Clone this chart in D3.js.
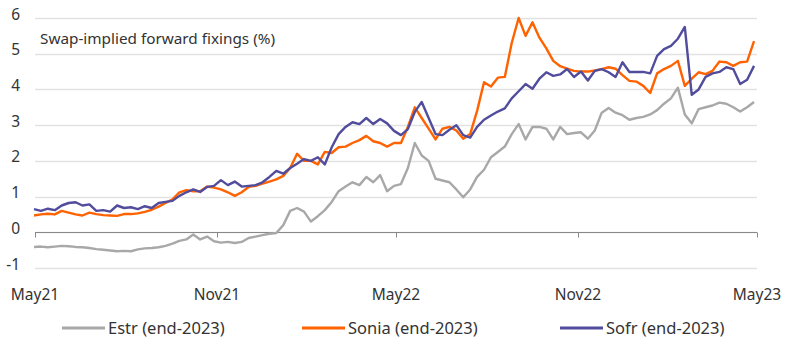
<!DOCTYPE html>
<html>
<head>
<meta charset="utf-8">
<script src="https://cdn.jsdelivr.net/npm/d3@7"></script>
<style>
  body { margin: 0; background: #fff; }
  svg { display: block; font-family: "Noto Sans", Lato, sans-serif; }
</style>
</head>
<body>
<svg id="chart" width="800" height="359"></svg>
<script>
// weekly observations, Fridays from 30 Apr 2021 to 28 Apr 2023
const dates = d3.timeFriday.range(new Date(2021, 3, 30), new Date(2023, 3, 29));

const estr = [
    -0.41, -0.40, -0.42, -0.40, -0.38, -0.39, -0.41, -0.42, -0.44, -0.47,
    -0.49, -0.51, -0.53, -0.52, -0.53, -0.48, -0.45, -0.44, -0.42, -0.38,
    -0.32, -0.24, -0.20, -0.06, -0.20, -0.12, -0.25, -0.29, -0.27, -0.30,
    -0.27, -0.16, -0.12, -0.08, -0.04, -0.02, 0.20, 0.60, 0.68, 0.58,
    0.30, 0.45, 0.62, 0.85, 1.15, 1.28, 1.40, 1.32, 1.55, 1.40,
    1.60, 1.15, 1.30, 1.35, 1.80, 2.50, 2.15, 2.00, 1.50, 1.45,
    1.40, 1.20, 0.98, 1.20, 1.55, 1.75, 2.10, 2.25, 2.40, 2.75,
    3.03, 2.60, 2.95, 2.95, 2.90, 2.60, 2.95, 2.75, 2.78, 2.80,
    2.62, 2.85, 3.35, 3.48, 3.35, 3.28, 3.15, 3.20, 3.23, 3.30,
    3.42, 3.60, 3.75, 4.05, 3.30, 3.05, 3.45, 3.50, 3.55, 3.63,
    3.60, 3.50, 3.38, 3.50, 3.65
];

const sonia = [
    0.47, 0.50, 0.52, 0.50, 0.60, 0.55, 0.50, 0.47, 0.55, 0.51,
    0.48, 0.47, 0.46, 0.51, 0.51, 0.53, 0.57, 0.63, 0.72, 0.82,
    0.92, 1.12, 1.18, 1.15, 1.15, 1.28, 1.25, 1.20, 1.12, 1.02,
    1.12, 1.27, 1.30, 1.36, 1.42, 1.48, 1.58, 1.80, 2.20, 2.00,
    2.00, 1.90, 2.25, 2.22, 2.38, 2.40, 2.50, 2.58, 2.70, 2.55,
    2.50, 2.40, 2.50, 2.50, 2.95, 3.50, 3.20, 2.90, 2.60, 2.90,
    2.95, 2.85, 2.62, 2.75, 3.40, 4.20, 4.08, 4.33, 4.35, 5.30,
    6.00, 5.50, 5.88, 5.45, 5.15, 4.80, 4.65, 4.58, 4.52, 4.50,
    4.50, 4.53, 4.57, 4.62, 4.58, 4.40, 4.24, 4.22, 4.10, 3.90,
    4.45, 4.57, 4.66, 4.80, 4.10, 4.30, 4.48, 4.43, 4.52, 4.78,
    4.76, 4.66, 4.76, 4.78, 5.35
];

const sofr = [
    0.65, 0.60, 0.66, 0.62, 0.75, 0.82, 0.84, 0.75, 0.78, 0.60,
    0.62, 0.58, 0.75, 0.68, 0.70, 0.65, 0.73, 0.68, 0.82, 0.85,
    0.88, 1.02, 1.12, 1.20, 1.13, 1.27, 1.30, 1.46, 1.32, 1.42,
    1.28, 1.30, 1.32, 1.40, 1.55, 1.72, 1.64, 1.80, 1.92, 2.05,
    2.00, 2.10, 1.90, 2.38, 2.75, 2.95, 3.08, 3.03, 3.20, 3.03,
    3.17, 3.05, 2.84, 2.72, 2.89, 3.37, 3.65, 3.20, 2.75, 2.72,
    2.87, 3.00, 2.72, 2.65, 2.95, 3.15, 3.27, 3.38, 3.47, 3.75,
    3.95, 4.15, 4.02, 4.30, 4.48, 4.38, 4.42, 4.57, 4.35, 4.50,
    4.25, 4.52, 4.57, 4.48, 4.35, 4.76, 4.49, 4.49, 4.49, 4.45,
    4.94, 5.13, 5.22, 5.42, 5.75, 3.85, 4.00, 4.35, 4.45, 4.49,
    4.62, 4.57, 4.15, 4.27, 4.66
];

const seriesNames = ["Estr (end-2023)", "Sonia (end-2023)", "Sofr (end-2023)"];
const seriesColors = ["#a8a8a8", "#ff6200", "#514c9b"];
const yTicks = [-1, 0, 1, 2, 3, 4, 5, 6];
const xTicks = [new Date(2021, 4, 1), new Date(2021, 10, 1), new Date(2022, 4, 1),
                new Date(2022, 10, 1), new Date(2023, 4, 1)];

const margin = {left: 35, right: 43, top: 18, bottom: 91};
const width = 800;
const height = 359;

const x = d3.scaleTime()
    .domain([new Date(2021, 4, 1), new Date(2023, 4, 1)])
    .range([margin.left, width - margin.right]);

const y = d3.scaleLinear()
    .domain([-1, 6])
    .range([height - margin.bottom, margin.top]);

const svg = d3.select("#chart");

// gridlines
svg.append("g")
    .selectAll("line")
    .data(yTicks)
    .join("line")
    .attr("x1", x.range()[0])
    .attr("x2", x.range()[1])
    .attr("y1", d => Math.round(y(d)) + 0.5)
    .attr("y2", d => Math.round(y(d)) + 0.5)
    .attr("stroke", "#e2e2e2")
    .attr("stroke-width", 1.3);

// y labels
svg.append("g")
    .selectAll("text")
    .data(yTicks)
    .join("text")
    .attr("x", 20)
    .attr("y", d => y(d))
    .attr("dy", "0.1em")
    .attr("text-anchor", "end")
    .attr("fill", "#333")
    .attr("font-size", 15.5)
    .text(d => d);

// zero axis with ticks
const zeroY = Math.round(y(0)) + 0.5;
svg.append("line")
    .attr("x1", x.range()[0])
    .attr("x2", x.range()[1])
    .attr("y1", zeroY)
    .attr("y2", zeroY)
    .attr("stroke", "#888")
    .attr("stroke-width", 1);

svg.append("g")
    .selectAll("line")
    .data(xTicks)
    .join("line")
    .attr("x1", d => Math.round(x(d)) + 0.5)
    .attr("x2", d => Math.round(x(d)) + 0.5)
    .attr("y1", zeroY)
    .attr("y2", zeroY + 5)
    .attr("stroke", "#888");

svg.append("g")
    .selectAll("text")
    .data(xTicks)
    .join("text")
    .attr("x", d => x(d))
    .attr("y", 300)
    .attr("text-anchor", "middle")
    .attr("fill", "#333")
    .attr("font-size", 15.5)
    .text(d => d3.timeFormat("%b%y")(d));

// title
svg.append("text")
    .attr("x", 40)
    .attr("y", 44)
    .attr("fill", "#333")
    .attr("font-size", 15.3)
    .text("Swap-implied forward fixings (%)");

// lines
const line = d3.line()
    .x((d, i) => x(dates[i]))
    .y(d => y(d));

svg.append("g")
    .attr("fill", "none")
    .attr("stroke-width", 2.4)
    .attr("stroke-linejoin", "round")
    .selectAll("path")
    .data([estr, sonia, sofr])
    .join("path")
    .attr("stroke", (d, i) => seriesColors[i])
    .attr("d", line);

// legend
const legendX = [62, 302, 560];
const legend = svg.append("g")
    .selectAll("g")
    .data(seriesNames)
    .join("g")
    .attr("transform", (d, i) => `translate(${legendX[i]},328)`);

legend.append("line")
    .attr("x1", 0)
    .attr("x2", 43)
    .attr("stroke", (d, i) => seriesColors[i])
    .attr("stroke-width", 3);

legend.append("text")
    .attr("x", 46)
    .attr("dy", "0.35em")
    .attr("fill", "#333")
    .attr("font-size", 16.5)
    .text(d => d);
</script>
</body>
</html>
